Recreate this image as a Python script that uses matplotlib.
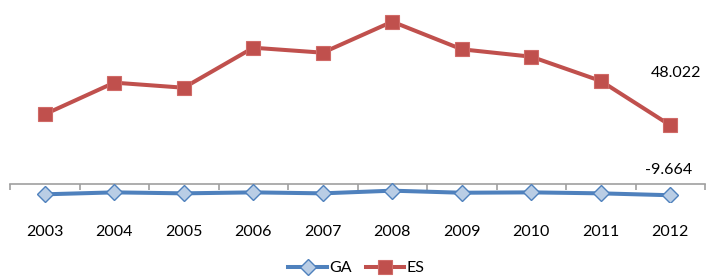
import matplotlib
matplotlib.use("Agg")
import matplotlib.pyplot as plt
from matplotlib.transforms import blended_transform_factory

plt.rcParams['font.family'] = ['Lato', 'DejaVu Sans']

years = ['2003', '2004', '2005', '2006', '2007', '2008', '2009', '2010', '2011', '2012']
ga = [-8.9, -7.3, -8.1, -7.3, -8.1, -5.9, -7.6, -7.3, -8.1, -9.664]
es = [57.1, 83.2, 79.0, 112.0, 107.9, 133.5, 110.7, 104.6, 84.6, 48.022]

blue = '#4F81BD'
red = '#C0504D'

fig = plt.figure(figsize=(7.06, 2.77), dpi=100)
ax = fig.add_axes([0.0142, 0.2718, 0.9844, 0.7004])

x = list(range(len(years)))
ax.plot(x, ga, color=blue, lw=2.9, marker='D', ms=8.5,
        mfc='#B9CDE5', mec=blue, mew=1.0, label='GA', zorder=3)
ax.plot(x, es, color=red, lw=2.9, marker='s', ms=10,
        mfc=red, mec='#D06A67', mew=0.8, label='ES', zorder=3)

ax.set_xlim(-0.5, len(years) - 0.5)
ax.set_ylim(-15, 145)

for s in ['top', 'right', 'left']:
    ax.spines[s].set_visible(False)
ax.spines['bottom'].set_position(('data', 0))
ax.spines['bottom'].set_color('#A0A0A0')
ax.spines['bottom'].set_linewidth(1.2)
ax.set_yticks([])
ax.set_xticks([i - 0.5 for i in range(len(years) + 1)])
ax.set_xticklabels([])
ax.tick_params(axis='x', direction='out', length=4, width=1.2, color='#A0A0A0')

trans = blended_transform_factory(ax.transData, ax.transAxes)
for i, yr in enumerate(years):
    ax.text(i, -0.157, yr, transform=trans, ha='center', va='center',
            fontsize=11.5, color='#000000')

ax.annotate(f'{es[-1]:.3f}', (x[-1], es[-1]), xytext=(4, 38),
            textcoords='offset points', ha='center', va='center', fontsize=11.5)
ax.annotate(f'{ga[-1]:.3f}', (x[-1], ga[-1]), xytext=(-1, 18),
            textcoords='offset points', ha='center', va='center', fontsize=11.5)

leg = fig.legend(loc='center', bbox_to_anchor=(0.505, 0.032), ncol=2, frameon=False,
                 fontsize=11.5, handlelength=2.4, columnspacing=0.9, handletextpad=0.15)

fig.savefig('out.png', dpi=100)
